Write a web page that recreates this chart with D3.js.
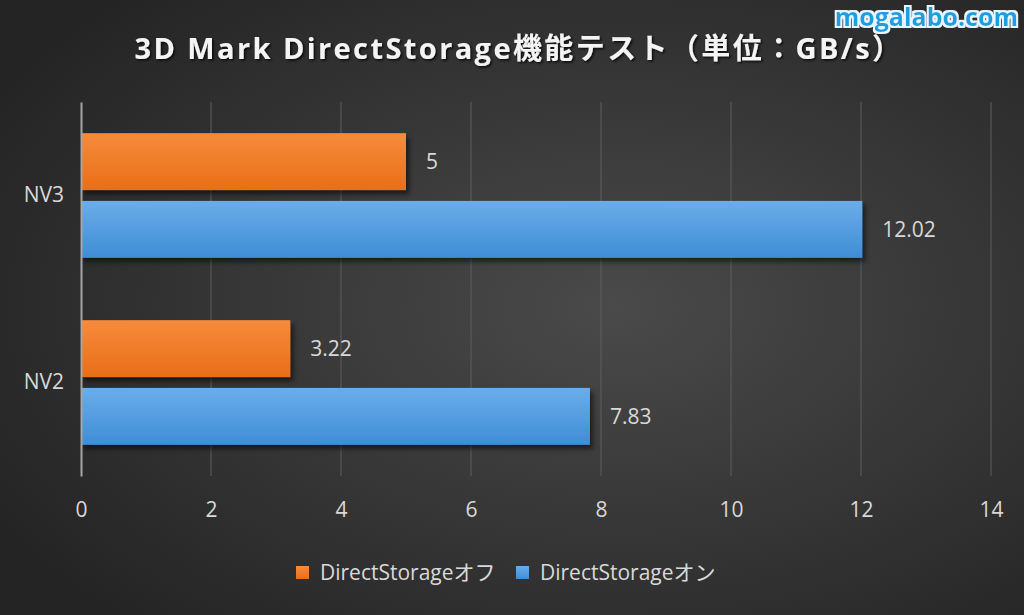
<!DOCTYPE html>
<html lang="ja">
<head>
<meta charset="UTF-8">
<title>3D Mark DirectStorage</title>
<script src="https://cdn.jsdelivr.net/npm/d3@7"></script>
<style>
    body { margin: 0; background: #2b2b2b; }
    text { font-family: "Open Sans", "Noto Sans CJK JP", sans-serif; }
</style>
</head>
<body>
<svg width="1024" height="615"></svg>
<script>
    // data
    var categories = ["NV3", "NV2"];
    var seriesNames = ["DirectStorageオフ", "DirectStorageオン"];
    var offValues = [5, 3.22];
    var onValues = [12.02, 7.83];
    var xTicks = [0, 2, 4, 6, 8, 10, 12, 14];

    var colors = { "DirectStorageオフ": ["#f68b3c", "#e96f17"], "DirectStorageオン": ["#6badea", "#3f8dd6"] };

    var rows = categories.map(function (c, i) {
        return { cat: c, vals: [
            { s: seriesNames[0], v: offValues[i] },
            { s: seriesNames[1], v: onValues[i] }
        ] };
    });

    var svg = d3.select("svg");
    var defs = svg.append("defs");

    var bg = defs.append("radialGradient").attr("id", "bg")
        .attr("cx", "60%").attr("cy", "50%").attr("r", "70%");
    bg.append("stop").attr("offset", "0%").attr("stop-color", "#4a4a4a");
    bg.append("stop").attr("offset", "100%").attr("stop-color", "#242424");

    seriesNames.forEach(function (s, i) {
        var g = defs.append("linearGradient").attr("id", "bar" + i)
            .attr("x1", 0).attr("y1", 0).attr("x2", 0).attr("y2", 1);
        g.append("stop").attr("offset", "0%").attr("stop-color", colors[s][0]);
        g.append("stop").attr("offset", "100%").attr("stop-color", colors[s][1]);
    });

    var sh = defs.append("filter").attr("id", "shadow")
        .attr("x", "-5%").attr("y", "-20%").attr("width", "115%").attr("height", "160%");
    sh.append("feDropShadow").attr("dx", 3).attr("dy", 4).attr("stdDeviation", 2.5)
        .attr("flood-color", "#000").attr("flood-opacity", 0.55);

    var glow = defs.append("filter").attr("id", "glow")
        .attr("x", "-10%").attr("y", "-30%").attr("width", "120%").attr("height", "160%");
    glow.append("feMorphology").attr("in", "SourceAlpha").attr("operator", "dilate").attr("radius", 1.5).attr("result", "d");
    glow.append("feFlood").attr("flood-color", "#e8f6ff");
    glow.append("feComposite").attr("in2", "d").attr("operator", "in").attr("result", "w");
    var gm = glow.append("feMerge");
    gm.append("feMergeNode").attr("in", "w");
    gm.append("feMergeNode").attr("in", "SourceGraphic");

    var tsh = defs.append("filter").attr("id", "tshadow");
    tsh.append("feDropShadow").attr("dx", 1.5).attr("dy", 1.5).attr("stdDeviation", 1)
        .attr("flood-color", "#000").attr("flood-opacity", 0.8);

    svg.append("rect").attr("width", 1024).attr("height", 615).attr("fill", "url(#bg)");

    var x = d3.scaleLinear().domain([0, 14]).range([81, 991]);
    var y0 = d3.scaleBand().domain(categories).range([102, 476]);
    var y1 = d3.scaleBand().domain(seriesNames).range([0, y0.bandwidth()])
        .paddingInner(0.16).paddingOuter(0.46);

    // gridlines
    svg.append("g").selectAll("line")
        .data(xTicks.slice(1))
        .enter().append("line")
        .attr("x1", function (d) { return x(d); })
        .attr("x2", function (d) { return x(d); })
        .attr("y1", 102).attr("y2", 476)
        .attr("stroke", "#5e5e5e").attr("stroke-width", 1);

    // x tick labels
    var xAxis = svg.append("g")
        .attr("transform", "translate(0,476)")
        .call(d3.axisBottom(x).tickValues(xTicks).tickSize(0).tickPadding(26));
    xAxis.select(".domain").remove();
    xAxis.selectAll("text").attr("fill", "#d9d9d9").attr("font-size", 21);

    // bars
    var groups = svg.append("g").selectAll("g")
        .data(rows).enter().append("g")
        .attr("transform", function (d) { return "translate(0," + y0(d.cat) + ")"; });

    groups.selectAll("rect")
        .data(function (d) { return d.vals; })
        .enter().append("rect")
        .attr("x", x(0))
        .attr("y", function (d) { return y1(d.s); })
        .attr("width", function (d) { return x(d.v) - x(0); })
        .attr("height", y1.bandwidth())
        .attr("fill", function (d) { return "url(#bar" + seriesNames.indexOf(d.s) + ")"; })
        .attr("filter", "url(#shadow)");

    groups.selectAll("text.val")
        .data(function (d) { return d.vals; })
        .enter().append("text")
        .attr("class", "val")
        .attr("x", function (d) { return x(d.v) + 20; })
        .attr("y", function (d) { return y1(d.s) + y1.bandwidth() / 2; })
        .attr("dy", "0.35em")
        .attr("fill", "#d9d9d9").attr("font-size", 21)
        .text(function (d) { return d.v; });

    // category axis
    var yAxis = svg.append("g")
        .attr("transform", "translate(" + x(0) + ",0)")
        .call(d3.axisLeft(y0).tickSize(0).tickPadding(17));
    yAxis.select(".domain").attr("stroke", "#a6a6a6").attr("stroke-width", 2);
    yAxis.selectAll("text").attr("fill", "#d9d9d9").attr("font-size", 21);

    // title
    svg.append("text")
        .attr("x", 519).attr("y", 59)
        .attr("text-anchor", "middle")
        .attr("fill", "#f4f4f4")
        .attr("font-size", 29).attr("font-weight", "bold")
        .attr("letter-spacing", "2.4px")
        .attr("filter", "url(#tshadow)")
        .text("3D Mark DirectStorage機能テスト（単位：GB/s）");

    // watermark
    svg.append("text")
        .attr("x", 1018).attr("y", 26)
        .attr("text-anchor", "end")
        .attr("fill", "#1e9fe0")
        .attr("font-size", 25).attr("font-weight", "bold")
        .attr("font-family", "'Open Sans', sans-serif")
        .attr("filter", "url(#glow)")
        .text("mogalabo.com");

    // legend
    var legend = svg.append("g").attr("transform", "translate(296,566)");
    var lx = [0, 220];
    seriesNames.forEach(function (s, i) {
        var lg = legend.append("g").attr("transform", "translate(" + lx[i] + ",0)");
        lg.append("rect").attr("width", 13).attr("height", 13)
            .attr("fill", "url(#bar" + i + ")");
        lg.append("text").attr("x", 24).attr("y", 7).attr("dy", "0.35em")
            .attr("fill", "#d9d9d9").attr("font-size", 21)
            .text(s);
    });
</script>
</body>
</html>
